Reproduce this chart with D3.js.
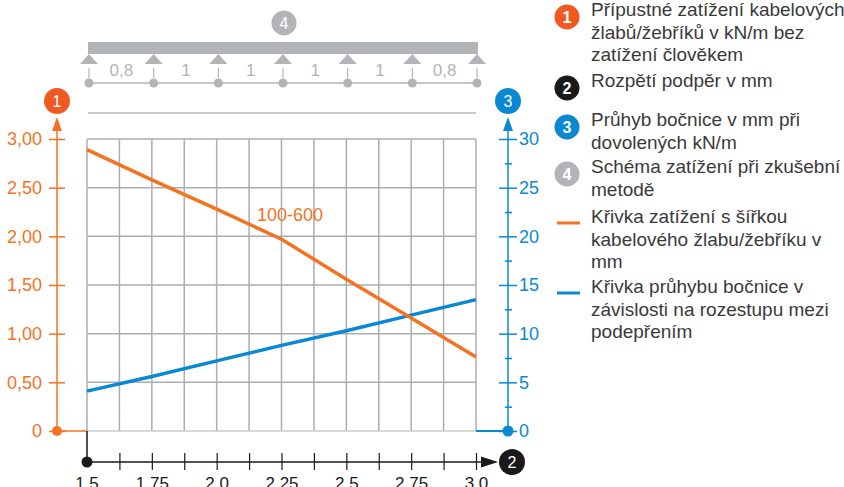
<!DOCTYPE html>
<html><head><meta charset="utf-8">
<script src="https://cdn.jsdelivr.net/npm/d3@7"></script>
<style>
html,body{margin:0;padding:0;background:#fff;}
svg{display:block;font-family:"Liberation Sans",Arial,Helvetica,sans-serif;}
</style></head>
<body><svg id="c" width="844" height="487"></svg>
<script>
// ---- data ----
const spanX = [1.5, 1.75, 2.0, 2.25, 2.5, 2.75, 3.0];
const loadValues = [2.89, 2.58, 2.28, 1.97, 1.56, 1.16, 0.76];
const deflValues = [4.1, 5.6, 7.2, 8.8, 10.3, 11.9, 13.5];
const xTicks = [1.625, 1.75, 1.875, 2.0, 2.125, 2.25, 2.375, 2.5, 2.625, 2.75, 2.875, 3.0];
const xLabels = {1.5:"1.5", 1.75:"1.75", 2.0:"2.0", 2.25:"2.25", 2.5:"2.5", 2.75:"2.75", 3.0:"3.0"};
const xGrid = [1.5, 1.625, 1.75, 1.875, 2.0, 2.125, 2.25, 2.375, 2.5, 2.625, 2.75, 2.875, 3.0];
const leftTicks = [0, 0.5, 1.0, 1.5, 2.0, 2.5, 3.0];
const leftLabels = ["0", "0,50", "1,00", "1,50", "2,00", "2,50", "3,00"];
const rightMajor = [0, 5, 10, 15, 20, 25, 30];
const rightMinor = [2.5, 7.5, 12.5, 17.5, 22.5, 27.5];
const spanLabels = ["0,8", "1", "1", "1", "1", "0,8"];
const curveLabel = "100-600";
const legendItems = [
  {badge:"1", color:"#f05a22", lines:["Přípustné zatížení kabelových","žlabů/žebříků v kN/m bez","zatížení člověkem"]},
  {badge:"2", color:"#1a1a1a", lines:["Rozpětí podpěr v mm"]},
  {badge:"3", color:"#0a88d2", lines:["Průhyb bočnice v mm při","dovolených kN/m"]},
  {badge:"4", color:"#b3b4b7", lines:["Schéma zatížení při zkušební","metodě"]},
  {line:"#f47321", lines:["Křivka zatížení s šířkou","kabelového žlabu/žebříku v","mm"]},
  {line:"#0a88d2", lines:["Křivka průhybu bočnice v","závislosti na rozestupu mezi","podepřením"]}
];

// ---- styles ----
const ORANGE = "#f47321", ORANGE_B = "#f05a22", BLUE = "#0a88d2", GRAY = "#b3b4b7", GRID = "#a9aeb2", BLACK = "#1a1a1a";

const svg = d3.select("#c");
const x = d3.scaleLinear().domain([1.5, 3.0]).range([87, 476]);
const yL = d3.scaleLinear().domain([0, 3]).range([431, 139]);
const yR = d3.scaleLinear().domain([0, 30]).range([431, 139]);

// grid
const g = svg.append("g");
g.selectAll("line.v").data(xGrid).join("line")
  .attr("x1", d => x(d)).attr("x2", d => x(d)).attr("y1", yL(3)).attr("y2", yL(0))
  .attr("stroke", GRID).attr("stroke-width", 1.5);
g.selectAll("line.h").data(leftTicks).join("line")
  .attr("x1", x(1.5)).attr("x2", x(3.0)).attr("y1", d => yL(d)).attr("y2", d => yL(d))
  .attr("stroke", d => d === 0 ? "#c9ccce" : GRID).attr("stroke-width", 1.5);

// top gray line
svg.append("line").attr("x1", 88).attr("x2", 476).attr("y1", 113).attr("y2", 113)
  .attr("stroke", "#c9c9c9").attr("stroke-width", 2);

// left axis
const lAx = svg.append("g").attr("transform", "translate(65,0)")
  .call(d3.axisLeft(yL).tickValues(leftTicks).tickSize(16).tickPadding(7)
    .tickFormat((d, i) => leftLabels[i]));
lAx.select(".domain").remove();
lAx.selectAll(".tick line").attr("stroke", ORANGE).attr("stroke-width", 1.5);
lAx.selectAll(".tick text").attr("fill", ORANGE).attr("font-size", 18)
  .attr("font-family", "Liberation Sans, Arial, sans-serif");
svg.append("line").attr("x1", 57).attr("x2", 57).attr("y1", 128).attr("y2", yL(0))
  .attr("stroke", ORANGE).attr("stroke-width", 1.5);
svg.append("path").attr("d", "M57,117 L62,131 L52,131 Z").attr("fill", ORANGE);
svg.append("line").attr("x1", 57).attr("x2", x(1.5)).attr("y1", yL(0)).attr("y2", yL(0))
  .attr("stroke", ORANGE).attr("stroke-width", 1.5);
svg.append("circle").attr("cx", 57).attr("cy", yL(0)).attr("r", 5).attr("fill", ORANGE);

// right axis
const rAx = svg.append("g").attr("transform", "translate(499,0)")
  .call(d3.axisRight(yR).tickValues(rightMajor).tickSize(18).tickPadding(2));
rAx.select(".domain").remove();
rAx.selectAll(".tick line").attr("stroke", BLUE).attr("stroke-width", 1.5);
rAx.selectAll(".tick text").attr("fill", BLUE).attr("font-size", 18)
  .attr("font-family", "Liberation Sans, Arial, sans-serif");
const rMin = svg.append("g").attr("transform", "translate(505,0)")
  .call(d3.axisRight(yR).tickValues(rightMinor).tickSize(7).tickFormat(""));
rMin.select(".domain").remove();
rMin.selectAll(".tick line").attr("stroke", BLUE).attr("stroke-width", 1.5);
svg.append("line").attr("x1", 508).attr("x2", 508).attr("y1", 128).attr("y2", yR(0))
  .attr("stroke", BLUE).attr("stroke-width", 1.5);
svg.append("path").attr("d", "M508,117 L513,131 L503,131 Z").attr("fill", BLUE);
svg.append("line").attr("x1", x(3.0)).attr("x2", 508).attr("y1", yR(0)).attr("y2", yR(0))
  .attr("stroke", BLUE).attr("stroke-width", 2);
svg.append("circle").attr("cx", 508).attr("cy", yR(0)).attr("r", 5.5).attr("fill", BLUE);

// x axis
svg.append("line").attr("x1", x(1.5)).attr("x2", x(1.5)).attr("y1", yL(0)).attr("y2", 462)
  .attr("stroke", BLACK).attr("stroke-width", 1.5);
const xAx = svg.append("g").attr("transform", "translate(0,453)")
  .call(d3.axisBottom(x).tickValues(xTicks).tickSize(17).tickPadding(7)
    .tickFormat(d => xLabels[d] || ""));
xAx.select(".domain").remove();
xAx.selectAll(".tick line").attr("stroke", BLACK).attr("stroke-width", 1.2);
xAx.selectAll(".tick text").attr("fill", BLACK).attr("font-size", 17)
  .attr("font-family", "Liberation Sans, Arial, sans-serif");
// 1.5 label
svg.append("text").attr("x", x(1.5)).attr("y", 489).attr("text-anchor", "middle")
  .attr("font-size", 17).attr("fill", BLACK).text(xLabels[1.5]);
svg.append("line").attr("x1", x(1.5)).attr("x2", 485).attr("y1", 462).attr("y2", 462)
  .attr("stroke", BLACK).attr("stroke-width", 1.5);
svg.append("path").attr("d", "M498,462 L481,456.5 L481,467.5 Z").attr("fill", BLACK);
svg.append("circle").attr("cx", x(1.5)).attr("cy", 462).attr("r", 5.5).attr("fill", BLACK);

// lines
const lineL = d3.line().x((d, i) => x(spanX[i])).y(d => yL(d));
const lineR = d3.line().x((d, i) => x(spanX[i])).y(d => yR(d));
svg.append("path").attr("d", lineR(deflValues)).attr("fill", "none")
  .attr("stroke", BLUE).attr("stroke-width", 3.5);
svg.append("path").attr("d", lineL(loadValues)).attr("fill", "none")
  .attr("stroke", ORANGE).attr("stroke-width", 3.5);
svg.append("text").attr("x", 257).attr("y", 221).attr("font-size", 18)
  .attr("fill", ORANGE).text(curveLabel);

// badges
function badge(cx, cy, r, fill, label, fs) {
  svg.append("circle").attr("cx", cx).attr("cy", cy).attr("r", r).attr("fill", fill);
  svg.append("text").attr("x", cx).attr("y", cy).attr("dy", "0.36em").attr("text-anchor", "middle")
    .attr("font-size", fs).attr("fill", "#fff").text(label);
}
badge(57, 101, 13, ORANGE_B, "1", 16);
badge(508, 101, 13, BLUE, "3", 16);
badge(512, 462, 13, BLACK, "2", 16);
badge(284, 23, 12.5, GRAY, "4", 16);

// load scheme diagram
const sp = d3.scalePoint().domain(d3.range(spanLabels.length + 1)).range([89, 477]);
svg.append("rect").attr("x", 88).attr("y", 42).attr("width", 390).attr("height", 12).attr("fill", GRAY);
const sup = svg.append("g");
sup.selectAll("path").data(sp.domain()).join("path")
  .attr("d", d => `M${sp(d)},54 L${sp(d) + 9},64 L${sp(d) - 9},64 Z`).attr("fill", GRAY);
sup.selectAll("line.s").data(sp.domain()).join("line")
  .attr("x1", d => sp(d)).attr("x2", d => sp(d)).attr("y1", 68).attr("y2", 78)
  .attr("stroke", GRAY).attr("stroke-width", 1.2);
svg.append("line").attr("x1", 89).attr("x2", 477).attr("y1", 83).attr("y2", 83)
  .attr("stroke", GRAY).attr("stroke-width", 1.5);
sup.selectAll("circle").data(sp.domain()).join("circle")
  .attr("cx", d => sp(d)).attr("cy", 83).attr("r", 4.5).attr("fill", GRAY);
svg.selectAll("text.span").data(spanLabels).join("text")
  .attr("x", (d, i) => (sp(i) + sp(i + 1)) / 2).attr("y", 76).attr("text-anchor", "middle")
  .attr("font-size", 17).attr("fill", GRAY).text(d => d);

// legend
const legY = [16, 87, 126, 173, 223, 293];
const lg = svg.append("g");
legendItems.forEach((it, k) => {
  const y0 = legY[k];
  if (it.badge) {
    lg.append("circle").attr("cx", 567).attr("cy", y0 + 1).attr("r", 12.5).attr("fill", it.color);
    lg.append("text").attr("x", 567).attr("y", y0 + 1).attr("dy", "0.36em").attr("text-anchor", "middle")
      .attr("font-size", 16).attr("font-weight", "bold").attr("fill", "#fff").text(it.badge);
  } else {
    lg.append("line").attr("x1", 557).attr("x2", 580).attr("y1", y0).attr("y2", y0)
      .attr("stroke", it.line).attr("stroke-width", 3);
  }
  it.lines.forEach((t, j) => {
    lg.append("text").attr("x", 591).attr("y", y0 + j * 22.7).attr("font-size", 19)
      .attr("fill", "#3a3a3a").text(t);
  });
});
</script></body></html>
